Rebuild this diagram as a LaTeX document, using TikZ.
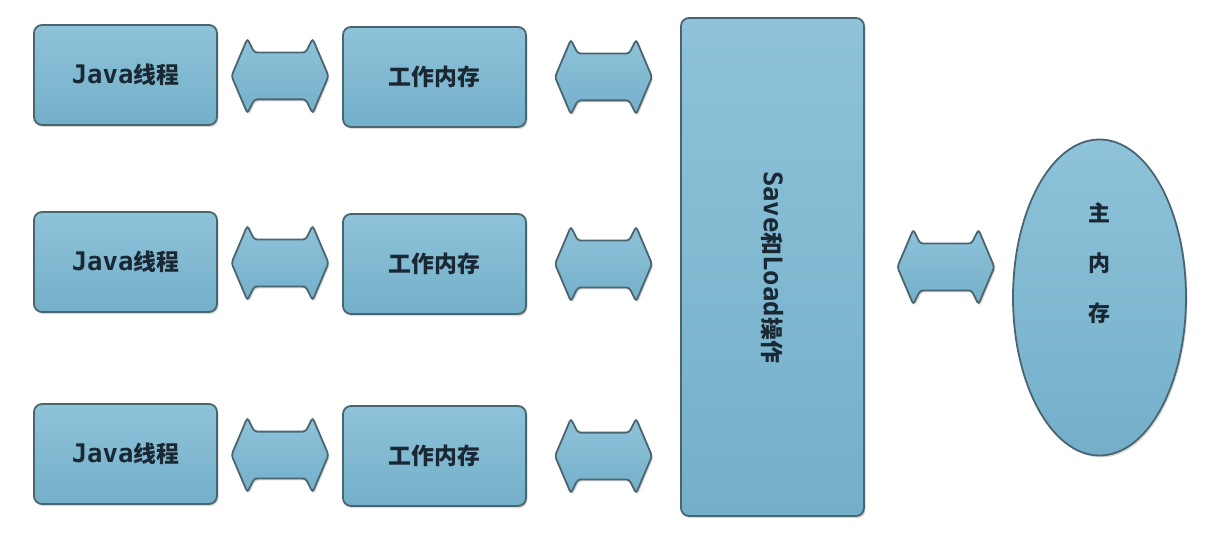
\documentclass[tikz,border=0pt]{standalone}
\usepackage{fontspec}
\setmainfont{Noto Sans CJK SC}
\newfontfamily\lat[Scale=1.12]{DejaVu Sans Mono}
\usepackage{tikz}
\usetikzlibrary{shapes,shapes.arrows,positioning,calc,shadows}
\newdimen\upx \upx=0.2mm
\definecolor{boxtop}{HTML}{8EC3D9}
\definecolor{boxbot}{HTML}{74AFCA}
\definecolor{boxline}{HTML}{4A6570}
\definecolor{txt}{HTML}{1A2833}

\begin{document}
\begin{tikzpicture}[x=0.2mm,y=0.2mm,
font=\bfseries\fontsize{13}{15}\selectfont,text=txt]
\tikzstyle{blue shape}=[draw=boxline,line width=1.8\upx,
top color=boxtop,bottom color=boxbot,
drop shadow={shadow xshift=1.5\upx,shadow yshift=-2\upx,opacity=0.3}]
\tikzstyle{box}=[blue shape,rectangle,rounded corners=8\upx,
minimum width=183\upx,minimum height=100\upx,inner sep=0pt]
\tikzstyle{arr}=[blue shape,double arrow,rounded corners=3\upx,
minimum height=97\upx,inner xsep=0pt,inner ysep=22.5\upx,
double arrow head extend=14\upx,double arrow tip angle=134,
double arrow head indent=-7\upx]

\useasboundingbox (0,0) rectangle (1216,536);

% threads
\node[box] (java1) at (125.5,461) {{\lat Java}线程};
\node[box] (java2) at (125.5,274) {{\lat Java}线程};
\node[box] (java3) at (125.5,82)  {{\lat Java}线程};

% working memory
\node[box] (work1) at (434.5,459) {工作内存};
\node[box] (work2) at (434.5,272) {工作内存};
\node[box] (work3) at (434.5,80)  {工作内存};

\node[box,minimum height=498\upx]
(saveload) at (772.5,269) {\rotatebox{-90}{{\lat Save}和{\lat Load}操作}};

\node[blue shape,ellipse,minimum width=173\upx,minimum height=316\upx,
inner sep=0pt,label={[yshift=34.5\upx,align=center,
font=\bfseries\fontsize{12.5}{28.4}\selectfont]center:主\\内\\存}]
(mainmem) at (1099.5,238.5) {};

% arrows
\node[arr] (a1) at ($(java1.east)!0.5!(work1.west)$) {};
\node[arr] (a2) at ($(java2.east)!0.5!(work2.west)$) {};
\node[arr] (a3) at ($(java3.east)!0.5!(work3.west)$) {};

\node[arr] (b1) at ($(work1.east)!0.5!(work1.east -| saveload.west)$) {};
\node[arr] (b2) at ($(work2.east)!0.5!(work2.east -| saveload.west)$) {};
\node[arr] (b3) at ($(work3.east)!0.5!(work3.east -| saveload.west)$) {};

\node[arr] (c) at ($(saveload.east)!0.55!(saveload.east -| mainmem.west)$) {};

\end{tikzpicture}
\end{document}
